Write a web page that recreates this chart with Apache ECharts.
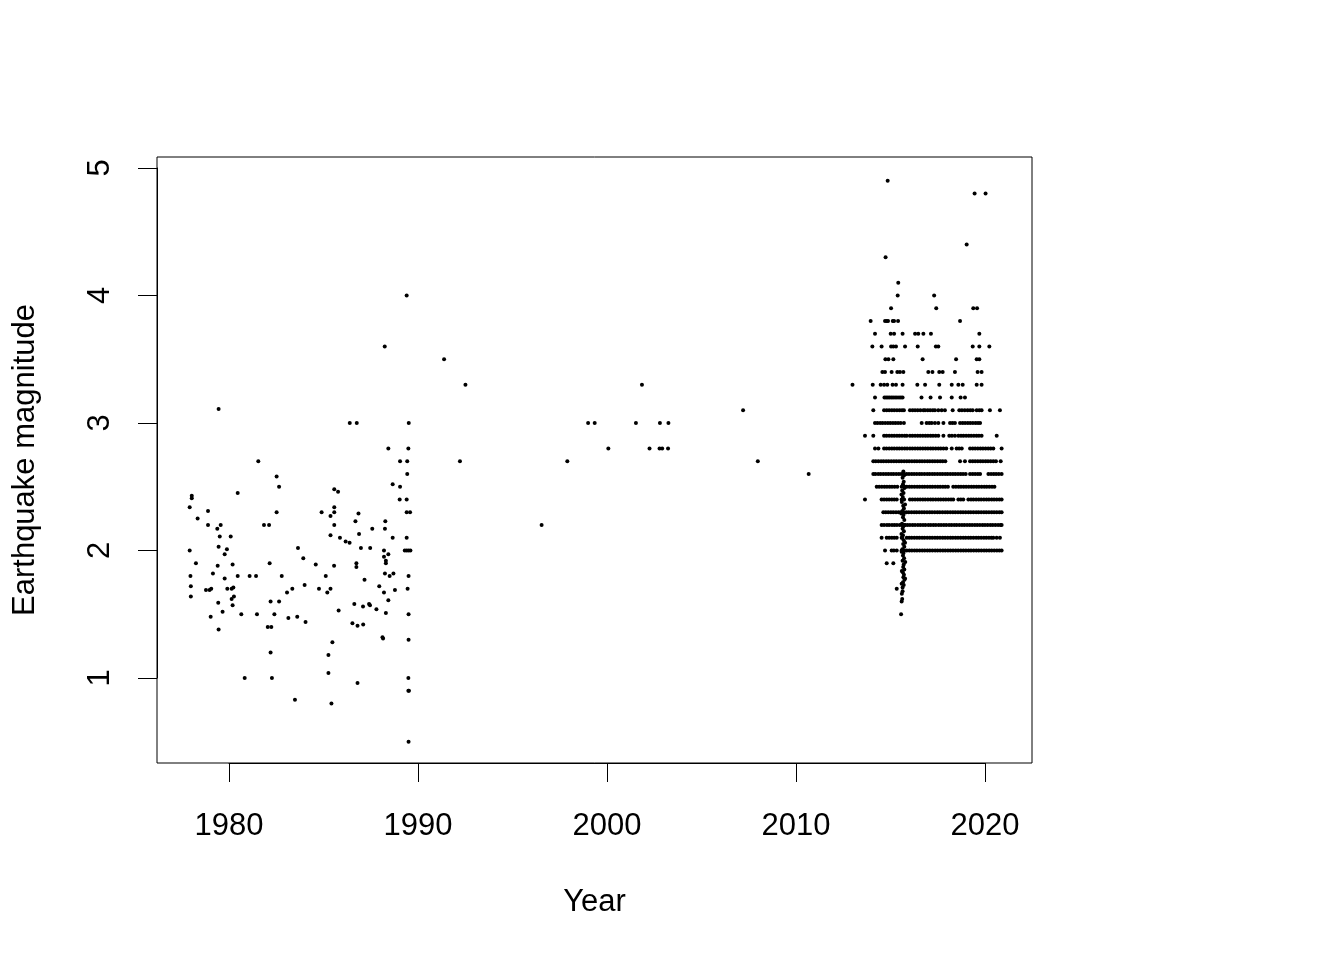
<!DOCTYPE html>
<html><head><meta charset="utf-8">
<script src="https://cdn.jsdelivr.net/npm/echarts@6/dist/echarts.min.js"></script>
<style>html,body{margin:0;padding:0;background:#fff}#c{width:1344px;height:960px}</style>
</head><body><div id="c"></div>
<script>
const xTicks = [1980, 1990, 2000, 2010, 2020];
const yTicks = [1, 2, 3, 4, 5];

// 1978-1990 events [year, magnitude]
const early = [
[1979.45,3.11],[1981.55,2.7],[1982.52,2.58],[1982.65,2.5],[1980.46,2.45],[1978.03,2.43],[1978.03,2.41],[1977.92,2.34],[1982.52,2.3],[1978.89,2.31],[1978.34,2.25],[1978.89,2.2],[1979.56,2.2],[1981.85,2.2],[1982.12,2.2],[1979.38,2.17],[1979.51,2.11],[1980.09,2.11],[1977.92,2.0],[1979.45,2.03],[1979.89,2.01],[1979.77,1.97],[1983.65,2.02],[1978.25,1.9],[1979.4,1.88],[1980.19,1.89],[1982.15,1.9],[1977.96,1.8],[1979.15,1.82],[1979.77,1.78],[1980.46,1.8],[1981.09,1.8],[1981.43,1.8],[1982.79,1.8],[1977.98,1.72],[1978.78,1.69],[1978.97,1.69],[1979.06,1.7],[1979.91,1.7],[1980.14,1.7],[1980.23,1.71],[1977.98,1.64],[1980.26,1.64],[1980.14,1.62],[1980.19,1.57],[1979.43,1.59],[1983.07,1.67],[1983.35,1.7],[1982.2,1.6],[1982.65,1.6],[1979.66,1.52],[1980.65,1.5],[1981.48,1.5],[1982.4,1.5],[1979.03,1.48],[1983.14,1.47],[1983.61,1.48],[1979.45,1.38],[1982.05,1.4],[1982.24,1.4],[1982.2,1.2],[1980.83,1.0],[1982.27,1.0],[1983.49,0.83],
[1989.40,4.0],[1988.24,3.6],[1986.39,3.0],[1986.76,3.0],[1989.51,3.0],[1988.43,2.8],[1989.49,2.8],[1989.05,2.7],[1989.43,2.7],[1989.43,2.6],[1988.66,2.52],[1989.05,2.5],[1985.57,2.48],[1985.77,2.46],[1989.03,2.4],[1989.40,2.4],[1989.4,2.3],[1989.58,2.3],[1984.9,2.3],[1985.37,2.27],[1985.57,2.3],[1985.57,2.34],[1986.85,2.29],[1986.69,2.23],[1985.57,2.2],[1987.58,2.17],[1988.27,2.23],[1988.25,2.17],[1985.37,2.12],[1985.87,2.1],[1986.17,2.07],[1986.38,2.06],[1986.88,2.13],[1988.66,2.1],[1989.4,2.1],[1986.98,2.02],[1987.47,2.02],[1988.2,2.0],[1988.43,1.97],[1989.3,2.0],[1989.4,2.0],[1989.5,2.0],[1989.6,2.0],[1983.93,1.94],[1984.59,1.89],[1985.56,1.88],[1986.74,1.9],[1986.74,1.87],[1988.2,1.95],[1988.3,1.92],[1988.3,1.9],[1985.12,1.8],[1988.25,1.82],[1988.5,1.8],[1988.7,1.82],[1989.5,1.8],[1984.0,1.73],[1984.76,1.7],[1985.2,1.67],[1985.37,1.7],[1987.17,1.77],[1987.95,1.72],[1988.2,1.67],[1988.78,1.69],[1988.43,1.61],[1989.45,1.7],[1985.8,1.53],[1986.63,1.58],[1987.09,1.56],[1987.41,1.58],[1987.46,1.57],[1987.8,1.54],[1988.3,1.51],[1989.5,1.5],[1984.05,1.44],[1986.53,1.43],[1986.8,1.41],[1987.1,1.42],[1988.12,1.32],[1988.15,1.31],[1989.5,1.3],[1985.47,1.28],[1985.26,1.18],[1985.26,1.04],[1989.49,1.0],[1989.49,0.9],[1989.52,0.9],[1986.8,0.96],[1985.42,0.8],[1989.5,0.5]
];

// 1990-2012 events
const middle = [
[1991.38,3.5],[1992.51,3.3],[1992.22,2.7],[1996.54,2.2],[1997.9,2.7],[1999.0,3.0],[1999.35,3.0],[2000.07,2.8],[2001.53,3.0],[2001.85,3.3],[2002.25,2.8],[2002.78,2.8],[2002.92,2.8],[2003.23,2.8],[2002.8,3.0],[2003.25,3.0],[2007.2,3.1],[2007.98,2.7],[2010.67,2.6]
];

// dense column of events around 2015.7 (unrounded magnitudes)
const col2015 = [
[2015.68,2.62],[2015.72,2.59],[2015.64,2.57],[2015.70,2.54],[2015.66,2.52],[2015.74,2.49],[2015.62,2.47],[2015.69,2.45],[2015.65,2.42],[2015.72,2.40],[2015.60,2.38],[2015.67,2.35],[2015.71,2.33],[2015.63,2.31],[2015.69,2.28],[2015.66,2.26],[2015.73,2.24],[2015.61,2.21],[2015.68,2.19],[2015.64,2.17],[2015.71,2.15],[2015.66,2.12],[2015.62,2.10],[2015.70,2.08],[2015.67,2.05],[2015.73,2.03],[2015.63,2.01],[2015.69,1.98],[2015.66,1.96],[2015.72,1.94],[2015.64,1.92],[2015.70,1.89],[2015.67,1.87],[2015.73,1.85],[2015.65,1.83],[2015.71,1.81],[2015.68,1.79],[2015.74,1.77],[2015.66,1.75],[2015.70,1.73],[2015.64,1.71],[2015.33,1.70],[2015.64,1.68],[2015.60,1.66],[2015.62,1.62],[2015.59,1.60],[2015.56,1.50],
[2015.76,2.50],[2015.58,2.44],[2015.77,2.36],[2015.57,2.29],[2015.76,2.20],[2015.58,2.13],[2015.77,2.06],[2015.59,1.99],[2015.78,1.91],[2015.60,1.84],[2015.77,1.78],[2015.59,1.74],
[2014.80,1.9],[2015.15,1.9]
];

// 2013-2020 events by magnitude (years)
const m49 = [2014.85];
const m48 = [2019.45, 2020.03];
const m44 = [2019.03];
const m43 = [2014.74];
const m41 = [2015.41];
const m40 = [2015.38, 2017.31];
const m39 = [2015.03, 2017.42, 2019.38, 2019.58];
const m38 = [2013.95, 2014.71, 2014.80, 2014.87, 2015.12, 2015.19, 2015.40, 2018.68];
const m37 = [2014.18, 2015.01, 2015.19, 2015.64, 2016.30, 2016.47, 2016.74, 2017.14, 2019.70];
const m36 = [2014.04, 2014.53, 2015.03, 2015.15, 2015.29, 2015.77, 2016.44, 2017.40, 2017.53, 2019.35, 2019.70, 2020.23];
const m35 = [2014.73, 2014.89, 2015.15, 2016.70, 2018.47, 2019.56, 2019.70];
const m34 = [2014.57, 2014.71, 2015.06, 2015.36, 2015.50, 2015.68, 2017.00, 2017.22, 2017.58, 2017.76, 2018.41, 2019.61, 2019.82];
const m33 = [2012.99, 2014.06, 2014.48, 2014.66, 2014.83, 2015.11, 2015.29, 2015.64, 2016.42, 2016.83, 2017.58, 2018.24, 2018.59, 2018.82, 2019.56, 2019.82];
const m32 = [2014.18, 2014.68, 2014.77, 2014.86, 2014.95, 2015.05, 2015.14, 2015.24, 2015.34, 2015.45, 2015.55, 2015.64, 2016.64, 2017.12, 2017.62, 2018.24, 2018.71, 2018.94];
const m31 = [2014.09, 2014.66, 2014.80, 2014.93, 2015.07, 2015.20, 2015.34, 2015.48, 2015.61, 2015.71, 2016.03, 2016.17, 2016.30, 2016.44, 2016.58, 2016.74, 2016.83, 2016.97, 2017.10, 2017.24, 2017.35, 2017.53, 2017.71, 2017.88, 2018.29, 2018.64, 2018.78, 2018.93, 2019.08, 2019.22, 2019.35, 2019.56, 2019.70, 2019.82, 2020.26, 2020.79];
const m30 = [2014.18, 2014.31, 2014.45, 2014.58, 2014.72, 2014.86, 2014.99, 2015.13, 2015.26, 2015.40, 2015.54, 2015.71, 2016.65, 2016.91, 2017.05, 2017.18, 2017.35, 2017.53, 2017.80, 2018.15, 2018.28, 2018.41, 2018.68, 2018.82, 2018.95, 2019.09, 2019.22, 2019.36, 2019.50, 2019.63, 2019.74];
const m29 = [2013.65, 2014.09, 2014.66, 2014.79, 2014.93, 2015.07, 2015.20, 2015.34, 2015.47, 2015.61, 2015.75, 2015.86, 2016.03, 2016.16, 2016.30, 2016.44, 2016.57, 2016.71, 2016.85, 2016.98, 2017.12, 2017.25, 2017.39, 2017.53, 2017.80, 2018.11, 2018.25, 2018.41, 2018.59, 2018.73, 2018.86, 2019.00, 2019.14, 2019.27, 2019.41, 2019.55, 2019.68, 2019.82, 2020.62];
const m28 = [2014.18, 2014.36, 2014.66, 2014.79, 2014.93, 2015.07, 2015.20, 2015.34, 2015.47, 2015.61, 2015.75, 2015.88, 2016.03, 2016.16, 2016.30, 2016.44, 2016.57, 2016.71, 2016.85, 2016.98, 2017.12, 2017.25, 2017.39, 2017.53, 2017.66, 2017.80, 2017.95, 2018.24, 2018.50, 2018.63, 2018.77, 2019.21, 2019.35, 2019.48, 2019.62, 2019.76, 2019.89, 2020.03, 2020.17, 2020.30, 2020.44, 2020.88];
const m27 = [2014.09, 2014.22, 2014.36, 2014.50, 2014.63, 2014.77, 2014.90, 2015.04, 2015.18, 2015.31, 2015.45, 2015.58, 2015.72, 2015.86, 2015.99, 2016.13, 2016.27, 2016.40, 2016.54, 2016.67, 2016.81, 2016.95, 2017.08, 2017.22, 2017.35, 2017.49, 2017.63, 2017.76, 2017.90, 2018.68, 2018.94, 2019.21, 2019.35, 2019.48, 2019.62, 2019.76, 2019.89, 2020.03, 2020.16, 2020.30, 2020.44, 2020.58, 2020.83];
const m26 = [2014.09, 2014.20, 2014.35, 2014.48, 2014.62, 2014.76, 2014.89, 2015.03, 2015.16, 2015.30, 2015.44, 2015.57, 2015.71, 2015.85, 2015.98, 2016.12, 2016.25, 2016.39, 2016.53, 2016.66, 2016.80, 2016.94, 2017.07, 2017.21, 2017.34, 2017.48, 2017.62, 2017.75, 2017.89, 2018.02, 2018.16, 2018.30, 2018.43, 2018.57, 2018.71, 2018.84, 2018.98, 2019.21, 2019.35, 2019.48, 2019.62, 2019.74, 2020.18, 2020.32, 2020.46, 2020.59, 2020.73, 2020.88];
const m25 = [2014.27, 2014.40, 2014.54, 2014.68, 2014.81, 2014.95, 2015.08, 2015.22, 2015.36, 2015.59, 2015.86, 2016.00, 2016.13, 2016.27, 2016.41, 2016.54, 2016.68, 2016.81, 2016.95, 2017.09, 2017.22, 2017.36, 2017.50, 2017.63, 2017.77, 2017.90, 2018.04, 2018.32, 2018.46, 2018.60, 2018.73, 2018.87, 2019.00, 2019.14, 2019.28, 2019.41, 2019.55, 2019.68, 2019.82, 2019.96, 2020.09, 2020.23, 2020.37, 2020.50];
const m24 = [2013.65, 2014.53, 2014.66, 2014.80, 2014.93, 2015.07, 2015.20, 2015.33, 2015.59, 2016.03, 2016.16, 2016.30, 2016.44, 2016.57, 2016.71, 2016.84, 2016.98, 2017.12, 2017.25, 2017.39, 2017.53, 2017.66, 2017.80, 2017.93, 2018.07, 2018.20, 2018.32, 2018.59, 2018.72, 2018.85, 2019.12, 2019.26, 2019.39, 2019.53, 2019.67, 2019.80, 2019.94, 2020.08, 2020.21, 2020.35, 2020.48, 2020.62, 2020.76, 2020.88];
const m23 = [2014.62, 2014.75, 2014.88, 2015.02, 2015.15, 2015.29, 2015.43, 2015.56, 2015.70, 2015.84, 2015.97, 2016.11, 2016.25, 2016.38, 2016.52, 2016.66, 2016.79, 2016.93, 2017.07, 2017.20, 2017.34, 2017.48, 2017.61, 2017.75, 2017.89, 2018.02, 2018.16, 2018.30, 2018.43, 2018.57, 2018.71, 2018.84, 2018.98, 2019.12, 2019.25, 2019.39, 2019.53, 2019.66, 2019.80, 2019.94, 2020.07, 2020.21, 2020.35, 2020.48, 2020.62, 2020.76, 2020.88];
const m22 = [2014.53, 2014.66, 2014.81, 2014.93, 2015.08, 2015.21, 2015.34, 2015.49, 2015.61, 2015.76, 2015.90, 2016.03, 2016.17, 2016.30, 2016.45, 2016.58, 2016.72, 2016.85, 2017.00, 2017.13, 2017.27, 2017.40, 2017.55, 2017.68, 2017.82, 2017.95, 2018.10, 2018.23, 2018.37, 2018.50, 2018.64, 2018.78, 2018.91, 2019.05, 2019.19, 2019.32, 2019.46, 2019.59, 2019.73, 2019.87, 2020.00, 2020.14, 2020.28, 2020.41, 2020.55, 2020.69, 2020.82, 2020.88];
const m21 = [2014.53, 2014.80, 2014.93, 2015.07, 2015.20, 2015.33, 2015.59, 2015.86, 2015.99, 2016.12, 2016.26, 2016.40, 2016.53, 2016.67, 2016.80, 2016.94, 2017.08, 2017.21, 2017.35, 2017.48, 2017.62, 2017.76, 2017.89, 2018.03, 2018.17, 2018.30, 2018.44, 2018.57, 2018.71, 2018.85, 2018.98, 2019.12, 2019.25, 2019.39, 2019.53, 2019.66, 2019.80, 2019.94, 2020.07, 2020.21, 2020.34, 2020.44, 2020.62, 2020.79];
const m20 = [2014.71, 2015.06, 2015.18, 2015.33, 2015.59, 2015.72, 2015.86, 2016.00, 2016.13, 2016.27, 2016.40, 2016.54, 2016.68, 2016.81, 2016.95, 2017.08, 2017.22, 2017.36, 2017.49, 2017.63, 2017.77, 2017.90, 2018.04, 2018.17, 2018.31, 2018.45, 2018.58, 2018.72, 2018.86, 2018.99, 2019.13, 2019.26, 2019.40, 2019.54, 2019.67, 2019.81, 2019.95, 2020.08, 2020.22, 2020.35, 2020.49, 2020.63, 2020.76, 2020.88];

const rows = [[4.9,m49],[4.8,m48],[4.4,m44],[4.3,m43],[4.1,m41],[4.0,m40],[3.9,m39],[3.8,m38],[3.7,m37],[3.6,m36],[3.5,m35],[3.4,m34],[3.3,m33],[3.2,m32],[3.1,m31],[3.0,m30],[2.9,m29],[2.8,m28],[2.7,m27],[2.6,m26],[2.5,m25],[2.4,m24],[2.3,m23],[2.2,m22],[2.1,m21],[2.0,m20]];

const data = early.concat(middle, col2015);
rows.forEach(function (r) { r[1].forEach(function (y) { data.push([y, r[0]]); }); });

const FONT = 'Liberation Sans, Arial, Helvetica, sans-serif';
const chart = echarts.init(document.getElementById('c'), null, { renderer: 'canvas' });
chart.setOption({
  animation: false,
  backgroundColor: '#ffffff',
  grid: [
    { left: 157, right: 312, top: 157, bottom: 197, show: true, borderColor: '#000', borderWidth: 1, backgroundColor: 'transparent' },
    { left: 229, right: 359, top: 157, bottom: 197 },
    { left: 157, right: 312, top: 168, bottom: 282 }
  ],
  xAxis: [
    { gridIndex: 0, type: 'value', min: 1976.19, max: 2022.487,
      axisLine: { show: false }, axisTick: { show: false }, axisLabel: { show: false }, splitLine: { show: false },
      name: 'Year', nameLocation: 'middle', nameGap: 124,
      nameTextStyle: { fontSize: 31, color: '#000', fontFamily: FONT } },
    { gridIndex: 1, type: 'value', min: xTicks[0], max: xTicks[xTicks.length - 1], interval: 10, position: 'bottom',
      axisLine: { show: true, lineStyle: { color: '#000', width: 1 } },
      axisTick: { show: true, length: 19, inside: false, lineStyle: { color: '#000', width: 1 } },
      axisLabel: { show: true, fontSize: 31, color: '#000', fontFamily: FONT, margin: 48,
        formatter: function (v) { return String(v); } },
      splitLine: { show: false } },
    { gridIndex: 2, type: 'value', show: false, min: 0, max: 1 }
  ],
  yAxis: [
    { gridIndex: 0, type: 'value', min: 0.3333, max: 5.0863,
      axisLine: { show: false }, axisTick: { show: false }, axisLabel: { show: false }, splitLine: { show: false },
      name: 'Earthquake magnitude', nameLocation: 'middle', nameGap: 116, nameRotate: 90,
      nameTextStyle: { fontSize: 31, color: '#000', fontFamily: FONT } },
    { gridIndex: 1, type: 'value', show: false, min: 0, max: 1 },
    { gridIndex: 2, type: 'value', min: yTicks[0], max: yTicks[yTicks.length - 1], interval: 1, position: 'left',
      axisLine: { show: true, lineStyle: { color: '#000', width: 1 } },
      axisTick: { show: true, length: 19, inside: false, lineStyle: { color: '#000', width: 1 } },
      axisLabel: { show: true, fontSize: 31, color: '#000', fontFamily: FONT, margin: 41, rotate: 90,
        formatter: function (v) { return String(v); } },
      splitLine: { show: false } }
  ],
  series: [{
    type: 'scatter', xAxisIndex: 0, yAxisIndex: 0, data: data,
    symbol: 'circle', symbolSize: 4, itemStyle: { color: '#000', opacity: 1 },
    emphasis: { disabled: true }, silent: true
  }]
});
</script>
</body></html>
